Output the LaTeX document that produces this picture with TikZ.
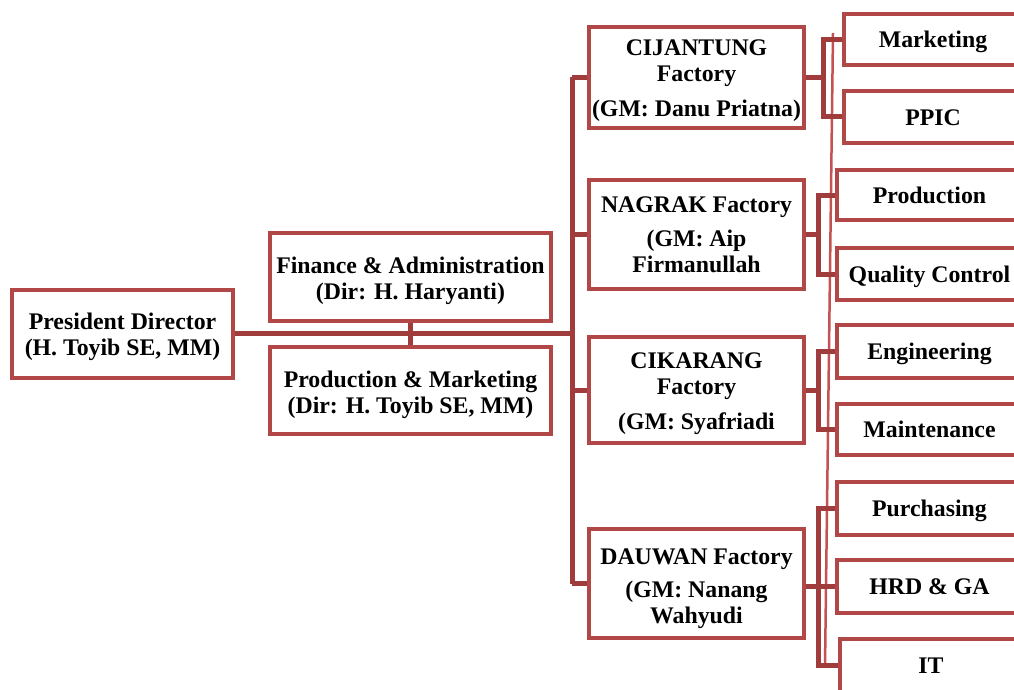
\documentclass[tikz,border=0pt]{standalone}
\usepackage{fontspec}
\setmainfont{Liberation Serif}
\definecolor{boxred}{HTML}{B24747}
\definecolor{connred}{HTML}{A03C3C}
\definecolor{thinred}{HTML}{C45252}
\newcommand{\tstrut}[1]{\rule{0pt}{#1}}
\begin{document}
\begin{tikzpicture}[x=1pt,y=-1pt,
  box/.style={draw=boxred,line width=4.6pt,rectangle,inner sep=0pt,align=center,
    font=\fontsize{23.8}{26}\selectfont\bfseries},
  dept/.style={box,text height=17.5pt,text depth=1.5pt},
  conn/.style={draw=connred,line width=5pt},
  thinline/.style={draw=thinred,line width=2.5pt}]
\useasboundingbox (0,0) rectangle (1014,690);
% left part
\node[box,minimum width=221,minimum height=88] (pres) at (122.5,334) {\tstrut{23pt}President Director\\(H. Toyib SE, MM)};
\node[box,minimum width=281,minimum height=88] (fin) at (410.5,277) {\tstrut{25pt}Finance \& Administration\\(Dir: H. Haryanti)};
\node[box,minimum width=281,minimum height=87] (prm) at (410.5,390.5) {\tstrut{25pt}Production \& Marketing\\(Dir: H. Toyib SE, MM)};
% factories
\node[box,minimum width=215,minimum height=101] (cij) at (696.5,77.5) {\tstrut{22pt}CIJANTUNG\\Factory\\[9pt](GM: Danu Priatna)};
\node[box,minimum width=215,minimum height=109] (nag) at (696.5,234.5) {NAGRAK Factory\\[8pt](GM: Aip\\Firmanullah};
\node[box,minimum width=215,minimum height=106] (cik) at (696.5,390) {\tstrut{23pt}CIKARANG\\Factory\\[9pt](GM: Syafriadi};
\node[box,minimum width=215,minimum height=109] (dau) at (696.5,583.5) {\tstrut{27pt}DAUWAN Factory\\[7pt](GM: Nanang\\Wahyudi};
% departments
\node[dept,minimum width=178,minimum height=51] (mkt) at (933,39.5) {Marketing};
\node[dept,minimum width=178,minimum height=52] (ppic) at (933,117) {PPIC};
\node[dept,minimum width=185,minimum height=50] (prd) at (929.5,195) {Production};
\node[dept,minimum width=185,minimum height=52] (qc) at (929.5,274) {Quality Control};
\node[dept,minimum width=185,minimum height=53] (eng) at (929.5,351.5) {Engineering};
\node[dept,minimum width=185,minimum height=51] (mnt) at (929.5,429.5) {Maintenance};
\node[dept,minimum width=185,minimum height=53] (pur) at (929.5,508.5) {Purchasing};
\node[dept,minimum width=185,minimum height=53] (hrd) at (929.5,586.5) {HRD \& GA};
\node[dept,minimum width=182,minimum height=53] (it) at (931,665.5) {IT};
% main connectors
\coordinate (trunk) at (572,333);
\draw[conn] (pres.east |- trunk) -- (trunk);
\draw[conn] (fin.south) -- (prm.north);
\draw[conn] (trunk |- cij.west) -- (trunk |- dau.west);
\foreach \f in {cij,nag,cik,dau} \draw[conn] (trunk |- \f.west) -- (\f.west);
% long thin line
\coordinate (tl1) at (833,33);
\coordinate (tl2) at (825,667);
\draw[thinline] (tl1) -- (tl2);
% department brackets
\coordinate (b1) at (823,0);
\draw[conn] (mkt.west) -- (b1 |- mkt.west) -- (b1 |- ppic.west) -- (ppic.west);
\draw[conn] (cij.east) -- (b1 |- cij.east);
\coordinate (b2) at (818,0);
\draw[conn] (prd.west) -- (b2 |- prd.west) -- (b2 |- qc.west) -- (qc.west);
\draw[conn] (nag.east) -- (b2 |- nag.east);
\draw[conn] (eng.west) -- (b2 |- eng.west) -- (b2 |- mnt.west) -- (mnt.west);
\draw[conn] (cik.east) -- (b2 |- cik.east);
\draw[conn] (pur.west) -- (b2 |- pur.west) -- (b2 |- it.west) -- (it.west);
\draw[conn] (dau.east |- hrd.west) -- (hrd.west);
\end{tikzpicture}
\end{document}
